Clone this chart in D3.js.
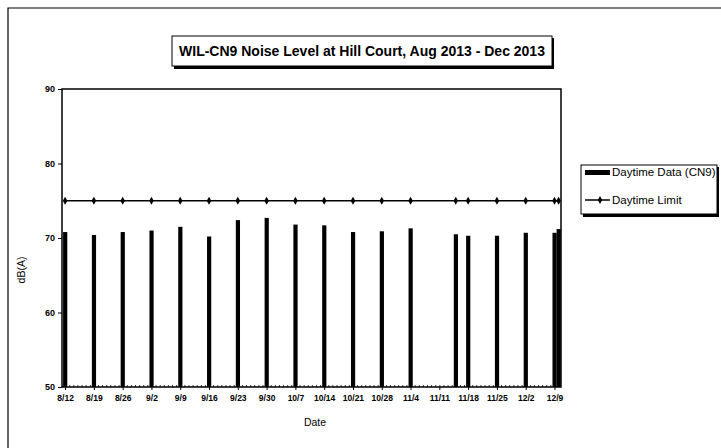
<!DOCTYPE html>
<html><head><meta charset="utf-8">
<script src="https://cdn.jsdelivr.net/npm/d3@7"></script>
<style>body{margin:0;background:#fff}svg{display:block;font-family:Arial,"Liberation Sans",sans-serif}</style>
</head><body>
<svg id="c" width="721" height="448"></svg>
<script>
const title = "WIL-CN9 Noise Level at Hill Court, Aug 2013 - Dec 2013";
const dates = ["2013-08-12","2013-08-19","2013-08-26","2013-09-02","2013-09-09","2013-09-16","2013-09-23","2013-09-30","2013-10-07","2013-10-14","2013-10-21","2013-10-28","2013-11-04","2013-11-15","2013-11-18","2013-11-25","2013-12-02","2013-12-09","2013-12-10"];
const daytimeData = [70.8,70.4,70.8,71.0,71.5,70.2,72.4,72.7,71.8,71.7,70.8,70.9,71.3,70.5,70.3,70.3,70.7,70.7,71.2];
const daytimeLimit = [75,75,75,75,75,75,75,75,75,75,75,75,75,75,75,75,75,75,75];
const yTicks = [50,60,70,80,90];
const tickDates = ["2013-08-12","2013-08-19","2013-08-26","2013-09-02","2013-09-09","2013-09-16","2013-09-23","2013-09-30","2013-10-07","2013-10-14","2013-10-21","2013-10-28","2013-11-04","2013-11-11","2013-11-18","2013-11-25","2013-12-02","2013-12-09"];
const seriesNames = ["Daytime Data (CN9)","Daytime Limit"];

const parse = d3.timeParse("%Y-%m-%d");
const svg = d3.select("#c");
const L=62, R=561, T=89, B=387;
const x = d3.scaleTime().domain([new Date(2013,7,11,6), new Date(2013,11,10,14)]).range([L,R]);
const y = d3.scaleLinear().domain([50,90]).range([B,T]);

// outer frame (top & left only visible)
svg.append("path").attr("d","M8,448V8H721").attr("fill","none").attr("stroke","#000").attr("stroke-width",1.2);

// title box with shadow
svg.append("rect").attr("x",174).attr("y",38).attr("width",380).attr("height",31).attr("fill","#000");
svg.append("rect").attr("x",172).attr("y",36).attr("width",380).attr("height",30).attr("fill","#fff").attr("stroke","#000").attr("stroke-width",1);
svg.append("text").attr("x",362).attr("y",56).attr("text-anchor","middle").attr("font-weight","bold").attr("font-size",14).text(title);

// plot frame
svg.append("rect").attr("x",L).attr("y",T).attr("width",R-L).attr("height",B-T).attr("fill","none").attr("stroke","#000").attr("stroke-width",1.5);

// daily minor marks on baseline
svg.append("g").attr("transform",`translate(0,${B})`)
  .call(d3.axisTop(x).ticks(d3.timeDay.every(1)).tickSize(2).tickFormat(""))
  .call(g=>g.select(".domain").remove()).selectAll("line").attr("stroke-width",0.8);

// bars
const data = dates.map((d,i)=>({date:parse(d),v:daytimeData[i],lim:daytimeLimit[i]}));
svg.append("g").selectAll("rect").data(data).join("rect")
  .attr("x",d=>x(d.date)-2).attr("width",4.2)
  .attr("y",d=>y(d.v)).attr("height",d=>y(50)-y(d.v)).attr("fill","#000");

// limit line
svg.append("path").datum(data).attr("fill","none").attr("stroke","#000").attr("stroke-width",1.6)
  .attr("d",d3.line().x(d=>x(d.date)).y(d=>y(d.lim)));
svg.append("g").selectAll("path").data(data).join("path")
  .attr("transform",d=>`translate(${x(d.date)},${y(d.lim)})`)
  .attr("d",d3.symbol(d3.symbolDiamond,18)).attr("fill","#000");

// y axis
const ya = svg.append("g").attr("transform",`translate(${L},0)`)
  .call(d3.axisLeft(y).tickValues(yTicks).tickSize(4).tickPadding(3));
ya.select(".domain").remove();
ya.selectAll("text").attr("font-size",9).attr("font-weight","bold").attr("font-family","Arial,'Liberation Sans',sans-serif");

// x axis
const xa = svg.append("g").attr("transform",`translate(0,${B})`)
  .call(d3.axisBottom(x).tickValues(tickDates.map(parse)).tickSize(3).tickPadding(5).tickFormat(d3.timeFormat("%-m/%-d")));
xa.select(".domain").remove();
xa.selectAll("text").attr("font-size",8.5).attr("font-weight","bold").attr("font-family","Arial,'Liberation Sans',sans-serif");

// axis titles
svg.append("text").attr("x",315).attr("y",426).attr("text-anchor","middle").attr("font-size",10.5).text("Date");
svg.append("text").attr("transform","translate(25,270) rotate(-90)").attr("text-anchor","middle").attr("font-size",10.5).text("dB(A)");

// legend
svg.append("rect").attr("x",583).attr("y",167).attr("width",136).attr("height",50).attr("fill","#000");
svg.append("rect").attr("x",581).attr("y",165).attr("width",136).attr("height",49).attr("fill","#fff").attr("stroke","#000").attr("stroke-width",1);
svg.append("rect").attr("x",585).attr("y",170).attr("width",25).attr("height",5).attr("fill","#000");
svg.append("text").attr("x",612).attr("y",176).attr("font-size",11.5).text(seriesNames[0]);
svg.append("line").attr("x1",585).attr("x2",610).attr("y1",200).attr("y2",200).attr("stroke","#000").attr("stroke-width",1.5);
svg.append("path").attr("transform","translate(600,200)").attr("d",d3.symbol(d3.symbolDiamond,18)).attr("fill","#000");
svg.append("text").attr("x",612).attr("y",204).attr("font-size",11.5).text(seriesNames[1]);
</script>
</body></html>
